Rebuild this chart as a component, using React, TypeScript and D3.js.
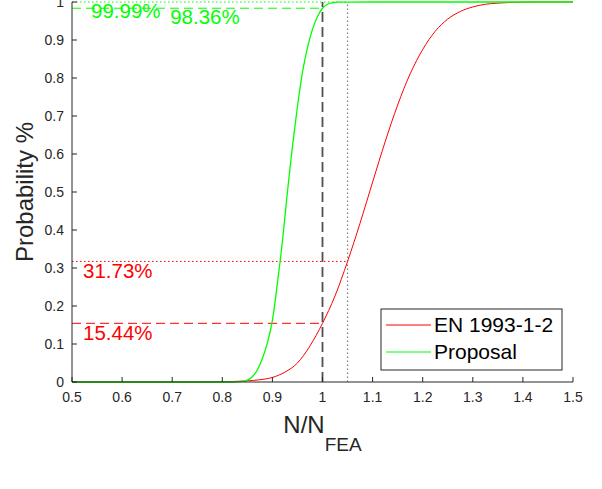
import React from "react";
import * as d3 from "d3";

const xTicks = [0.5, 0.6, 0.7, 0.8, 0.9, 1.0, 1.1, 1.2, 1.3, 1.4, 1.5];
const xTickLabels = ["0.5", "0.6", "0.7", "0.8", "0.9", "1", "1.1", "1.2", "1.3", "1.4", "1.5"];
const yTicks = [0, 0.1, 0.2, 0.3, 0.4, 0.5, 0.6, 0.7, 0.8, 0.9, 1.0];
const yTickLabels = ["0", "0.1", "0.2", "0.3", "0.4", "0.5", "0.6", "0.7", "0.8", "0.9", "1"];

const enX = [0.5, 0.75, 0.8, 0.825, 0.85, 0.875, 0.9, 0.925, 0.95, 0.975, 1.0, 1.025, 1.05, 1.075, 1.1, 1.125, 1.15, 1.175, 1.2, 1.225, 1.25, 1.275, 1.3, 1.325, 1.35, 1.375, 1.4, 1.45, 1.5];
const enY = [0, 0.0001, 0.0006, 0.0015, 0.003, 0.006, 0.012, 0.026, 0.05, 0.095, 0.1544, 0.2266, 0.3173, 0.418, 0.526, 0.632, 0.729, 0.811, 0.875, 0.923, 0.955, 0.975, 0.987, 0.994, 0.997, 0.9988, 0.9996, 1, 1];

const propX = [0.5, 0.82, 0.83, 0.84, 0.85, 0.86, 0.87, 0.88, 0.89, 0.9, 0.91, 0.92, 0.93, 0.94, 0.95, 0.96, 0.97, 0.98, 0.99, 1.0, 1.01, 1.02, 1.03, 1.05, 1.1, 1.5];
const propY = [0, 0, 0.0003, 0.0015, 0.005, 0.014, 0.032, 0.062, 0.103, 0.162, 0.26, 0.37, 0.5, 0.62, 0.725, 0.815, 0.88, 0.928, 0.962, 0.9836, 0.994, 0.998, 0.9995, 0.9999, 1, 1];

const seriesNames = ["EN 1993-1-2", "Proposal"];
const seriesColors = ["#ff0000", "#00ff00"];

const enRefs = [
  { x: 1.0, p: 0.1544, label: "15.44%", dash: "dashed", labelX: 0.522 },
  { x: 1.05, p: 0.3173, label: "31.73%", dash: "dotted", labelX: 0.522 },
];
const propRefs = [
  { x: 1.0, p: 0.9836, label: "98.36%", dash: "dashed", labelX: 0.696 },
  { x: 1.05, p: 0.9999, label: "99.99%", dash: "dotted", labelX: 0.538 },
];
const vRefs = [
  { x: 1.0, dash: "dashed" },
  { x: 1.05, dash: "dotted" },
];

const W = 602, H = 489;
const L = 72, R = 573, T = 2, B = 382;
const FONT = "'Liberation Sans', Arial, Helvetica, sans-serif";

export default function App() {
  const x = d3.scaleLinear().domain([0.5, 1.5]).range([L, R]);
  const y = d3.scaleLinear().domain([0, 1]).range([B, T]);
  const line = d3
    .line<[number, number]>()
    .x((d) => x(d[0]))
    .y((d) => y(d[1]))
    .curve(d3.curveMonotoneX);
  const enPts = enX.map((v, i) => [v, enY[i]] as [number, number]);
  const propPts = propX.map((v, i) => [v, propY[i]] as [number, number]);
  const dashOf = (k: string) => (k === "dashed" ? "9,5" : "1.5,2.5");

  return (
    <svg width={W} height={H} style={{ position: "absolute", left: 0, top: 0, background: "#fff" }} fontFamily={FONT}>
      <rect x={0} y={0} width={W} height={H} fill="#fff" />
      {vRefs.map((v, i) => (
        <line key={"v" + i} x1={x(v.x)} x2={x(v.x)} y1={y(0)} y2={y(1)}
          stroke={v.dash === "dashed" ? "#505050" : "#808080"}
          strokeWidth={v.dash === "dashed" ? 1.8 : 1.2}
          strokeDasharray={v.dash === "dashed" ? "10,5" : "1.5,2.5"} />
      ))}
      {enRefs.map((r, i) => (
        <line key={"er" + i} x1={x(0.5)} x2={x(r.x)} y1={y(r.p)} y2={y(r.p)}
          stroke="#ff0000" strokeWidth={1} strokeDasharray={dashOf(r.dash)} />
      ))}
      {propRefs.map((r, i) => (
        <line key={"pr" + i} x1={x(0.5)} x2={x(r.x)} y1={y(r.p)} y2={y(r.p)}
          stroke="#00ff00" strokeWidth={1} strokeDasharray={dashOf(r.dash)} />
      ))}
      <path d={line(enPts) || ""} fill="none" stroke={seriesColors[0]} strokeWidth={1} />
      <path d={line(propPts) || ""} fill="none" stroke={seriesColors[1]} strokeWidth={1.3} />
      {enRefs.map((r, i) => (
        <text key={"el" + i} x={x(r.labelX)} y={y(r.p) + 17} fontSize={20.5} fill="#ff0000">{r.label}</text>
      ))}
      {propRefs.map((r, i) => (
        <text key={"pl" + i} x={x(r.labelX)} y={y(r.p) + 16} fontSize={20.5} fill="#00ff00">{r.label}</text>
      ))}
      <line x1={L} x2={L} y1={T} y2={B} stroke="#262626" strokeWidth={1} />
      <line x1={L} x2={R} y1={B} y2={B} stroke="#262626" strokeWidth={1} />
      {yTicks.map((t, i) => (
        <g key={"yt" + i}>
          <line x1={L} x2={L + 5} y1={y(t)} y2={y(t)} stroke="#262626" />
          <text x={L - 8} y={y(t)} dy="0.35em" textAnchor="end" fontSize={14} fill="#262626">{yTickLabels[i]}</text>
        </g>
      ))}
      {xTicks.map((t, i) => (
        <g key={"xt" + i}>
          <line x1={x(t)} x2={x(t)} y1={B} y2={B - 5} stroke="#262626" />
          <text x={x(t)} y={B + 20} textAnchor="middle" fontSize={14} fill="#262626">{xTickLabels[i]}</text>
        </g>
      ))}
      <text x={x(1.0)} y={433} textAnchor="middle" fontSize={24} fill="#262626">
        N/N<tspan fontSize={19} dy={18}>FEA</tspan>
      </text>
      <text transform={`translate(33,${(T + B) / 2}) rotate(-90)`} textAnchor="middle" fontSize={24} fill="#262626">Probability %</text>
      <g>
        <rect x={381} y={309} width={181} height={61} fill="#fff" stroke="#262626" strokeWidth={1} />
        {seriesNames.map((n, i) => (
          <g key={"lg" + i}>
            <line x1={386} x2={431} y1={325 + i * 27} y2={325 + i * 27} stroke={seriesColors[i]} strokeWidth={1} />
            <text x={434} y={325 + i * 27} dy="0.35em" fontSize={21} fill="#000">{n}</text>
          </g>
        ))}
      </g>
    </svg>
  );
}
